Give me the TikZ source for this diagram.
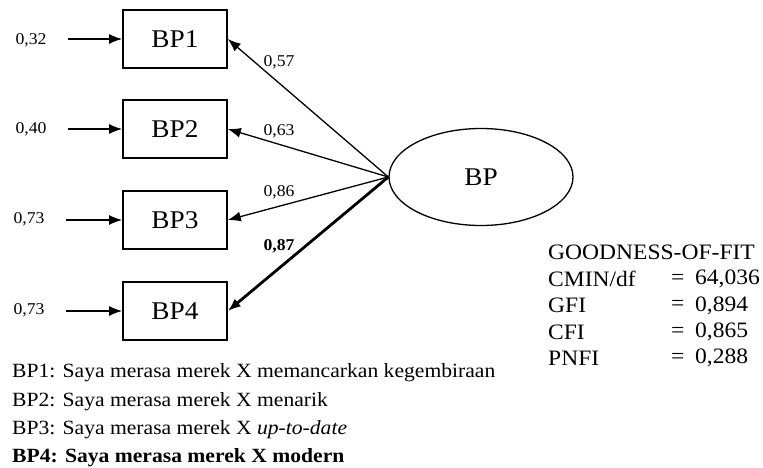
\documentclass[tikz,border=0pt]{standalone}
\usepackage{fontspec}
\setmainfont{Liberation Serif}[FakeStretch=1.07]
\usetikzlibrary{arrows.meta,shapes.geometric}
\begin{document}
\begin{tikzpicture}[x=1pt,y=-1pt,
  indbox/.style={draw,line width=1.6pt,minimum width=104pt,minimum height=58pt,
    inner sep=0pt,font=\fontsize{25.5}{28}\selectfont},
  latent/.style={draw,ellipse,line width=1.3pt,minimum width=184pt,minimum height=97pt,
    inner sep=0pt,font=\fontsize{25.5}{28}\selectfont},
  errarrow/.style={line width=1.6pt,-{Latex[length=13pt,width=10pt]}},
  loadarrow/.style={line width=1.3pt,-{Latex[length=13pt,width=10pt]}},
  strongarrow/.style={line width=2.8pt,-{Latex[length=13pt,width=10pt]}},
  small/.style={font=\fontsize{16.5}{19}\selectfont,inner sep=0pt},
  fit/.style={font=\fontsize{22}{25}\selectfont,inner sep=0pt,anchor=west},
  legend/.style={font=\fontsize{20.2}{24}\selectfont,inner sep=0pt,anchor=west}
]
\useasboundingbox (0,0) rectangle (763,468);

% indicator boxes and latent variable
\node[indbox] (b1) at (175,39) {BP1};
\node[indbox] (b2) at (175,129) {BP2};
\node[indbox] (b3) at (175,220) {BP3};
\node[indbox] (b4) at (175,311) {BP4};
\node[latent] (bp) at (481,177) {BP};

% error terms
\coordinate (e1) at (68,39);
\coordinate (e2) at (68,129);
\coordinate (e3) at (66,220);
\coordinate (e4) at (66,311);
\node[small] (l1) at (31,40) {0,32};
\node[small] (l2) at (31,129) {0,40};
\node[small] (l3) at (29,219) {0,73};
\node[small] (l4) at (29,310) {0,73};
\draw[errarrow] (e1) -- (b1.west);
\draw[errarrow] (e2) -- (b2.west);
\draw[errarrow] (e3) -- (b3.west);
\draw[errarrow] (e4) -- (b4.west);

% loadings
\draw[loadarrow] (bp.west) -- (b1.east);
\draw[loadarrow] (bp.west) -- (b2.east);
\draw[loadarrow] (bp.west) -- (b3.east);
\draw[strongarrow] (bp.west) -- (b4.east);
\node[small] (w1) at (279,62) {0,57};
\node[small] (w2) at (279,131) {0,63};
\node[small] (w3) at (279,192) {0,86};
\node[small,font=\fontsize{16.5}{19}\selectfont\bfseries] (w4) at (279,246) {0,87};

% goodness of fit
\node[fit] (g0) at (548,252) {GOODNESS-OF-FIT};
\node[fit] (g1) at (548,279) {CMIN/df};
\node[fit] (g2) at (548,305.5) {GFI};
\node[fit] (g3) at (548,332) {CFI};
\node[fit] (g4) at (548,358) {PNFI};
\node[fit] (q1) at (671,279) {=};
\node[fit] (q2) at (671,305.5) {=};
\node[fit] (q3) at (671,332) {=};
\node[fit] (q4) at (671,358) {=};
\node[fit] (v1) at (695,279) {64,036};
\node[fit] (v2) at (695,305.5) {0,894};
\node[fit] (v3) at (695,332) {0,865};
\node[fit] (v4) at (695,358) {0,288};

% item wording
\node[legend] (t1) at (12,372.5) {BP1: Saya merasa merek X memancarkan kegembiraan};
\node[legend] (t2) at (12,401.5) {BP2: Saya merasa merek X menarik};
\node[legend] (t3) at (12,430) {BP3: Saya merasa merek X \textit{up-to-date}};
\node[legend] (t4) at (12,458) {\bfseries BP4: Saya merasa merek X modern};
\end{tikzpicture}
\end{document}
